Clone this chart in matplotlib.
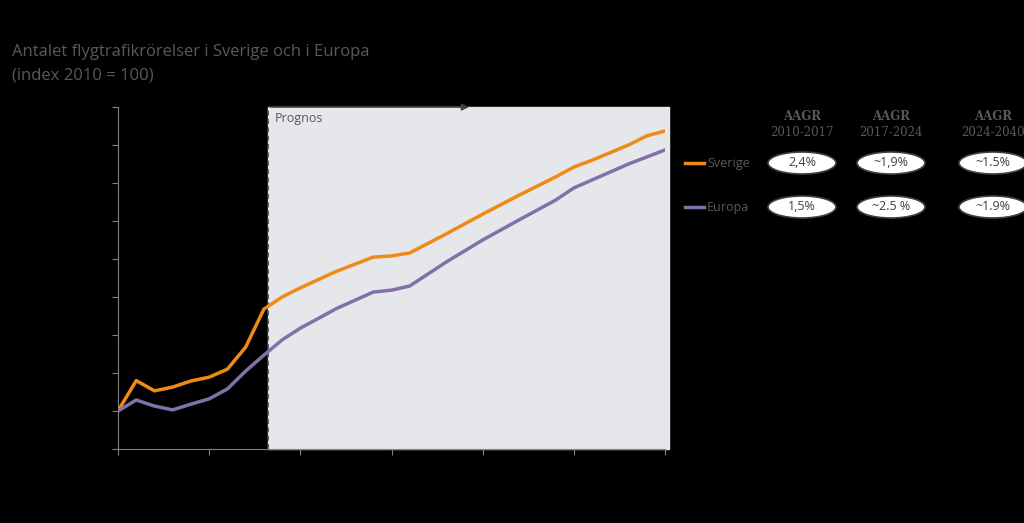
import matplotlib
matplotlib.use("Agg")
import matplotlib.pyplot as plt
from matplotlib.patches import Ellipse

years = [2010,2011,2012,2013,2014,2015,2016,2017,2018,2019,2020,2022,2024,2025,2026,2028,2030,2032,2034,2035,2036,2038,2039,2040]
sverige = [100,108,105.3,106.3,107.9,108.9,111,116.8,126.8,130,132.4,136.8,140.5,140.8,141.6,146.6,151.8,156.8,161.6,164.2,166,170,172.4,173.7]
europa_years = [2010,2011,2012,2013,2014,2015,2016,2017,2018,2019,2020,2022,2024,2025,2026,2028,2030,2032,2034,2035,2036,2038,2040]
europa = [100,102.9,101.3,100.3,101.8,103.2,105.8,110.5,114.7,118.7,121.8,127,131.3,131.8,132.9,139.2,145,150.3,155.5,158.7,160.8,165,168.7]
periods = ["2010-2017", "2017-2024", "2024-2040"]
aagr_sverige = ["2,4%", "~1,9%", "~1.5%"]
aagr_europa = ["1,5%", "~2.5 %", "~1.9%"]
forecast_start = 2018.2

txt = "#595959"
fig = plt.figure(figsize=(10.24, 5.23), dpi=100, facecolor="black")
ax = fig.add_axes([118/1024, 1-449/523, 547/1024, 342/523], facecolor="black")
ax.set_xlim(2010, 2040)
ax.set_ylim(90, 180)
ax.axvspan(forecast_start, 2040.2, ymax=1, color="#e5e7ea", zorder=0, clip_on=False)
ax.axvline(forecast_start, color="#404040", ls=(0, (3, 2)), lw=1.2, zorder=1)
ax.plot(years, sverige, color="#ef8a17", lw=2.5, zorder=3)
ax.plot(europa_years, europa, color="#8470a8", lw=2.5, zorder=3)
ax.annotate("", xy=(2029.4, 180), xytext=(forecast_start, 180),
            arrowprops=dict(arrowstyle="-|>", color="#404040", lw=1.2), annotation_clip=False)
ax.text(forecast_start + 0.4, 177, "Prognos", color=txt, fontsize=9, va="center", fontfamily="Open Sans")
ax.set_xticks(range(2010, 2041, 5))
ax.set_yticks(range(90, 181, 10))
ax.tick_params(colors="#808080", labelcolor="black", length=4, labelsize=8)
for s in ["top", "right"]:
    ax.spines[s].set_visible(False)
for s in ["left", "bottom"]:
    ax.spines[s].set_color("#808080")

fig.text(12/1024, 1-52/523, "Antalet flygtrafikrörelser i Sverige och i Europa", color=txt, fontsize=12, va="center", fontfamily="Open Sans")
fig.text(12/1024, 1-75/523, "(index 2010 = 100)", color=txt, fontsize=12, va="center", fontfamily="Open Sans")

cx = [802, 891, 993]
for i, p in enumerate(periods):
    fig.text(cx[i]/1024, 1-117/523, "AAGR", color=txt, fontsize=8.5, weight="bold", ha="center", va="center", fontfamily="DejaVu Serif")
    fig.text(cx[i]/1024, 1-133/523, p, color=txt, fontsize=8.5, ha="center", va="center", fontfamily="DejaVu Serif")
for row, (lab, col, vals, y) in enumerate([("Sverige", "#ef8a17", aagr_sverige, 163), ("Europa", "#8470a8", aagr_europa, 207)]):
    fig.add_artist(plt.Line2D([685/1024, 704/1024], [1-y/523]*2, color=col, lw=2.5))
    fig.text(707/1024, 1-y/523, lab, color=txt, fontsize=9, va="center", fontfamily="Open Sans")
    for i, v in enumerate(vals):
        fig.add_artist(Ellipse((cx[i]/1024, 1-y/523), 68/1024, 22/523, facecolor="white", edgecolor="#404040", lw=1.2))
        fig.text(cx[i]/1024, 1-y/523, v, color="#404040", fontsize=9, ha="center", va="center", fontfamily="Open Sans")

fig.savefig("out.png", dpi=100, facecolor="black")
